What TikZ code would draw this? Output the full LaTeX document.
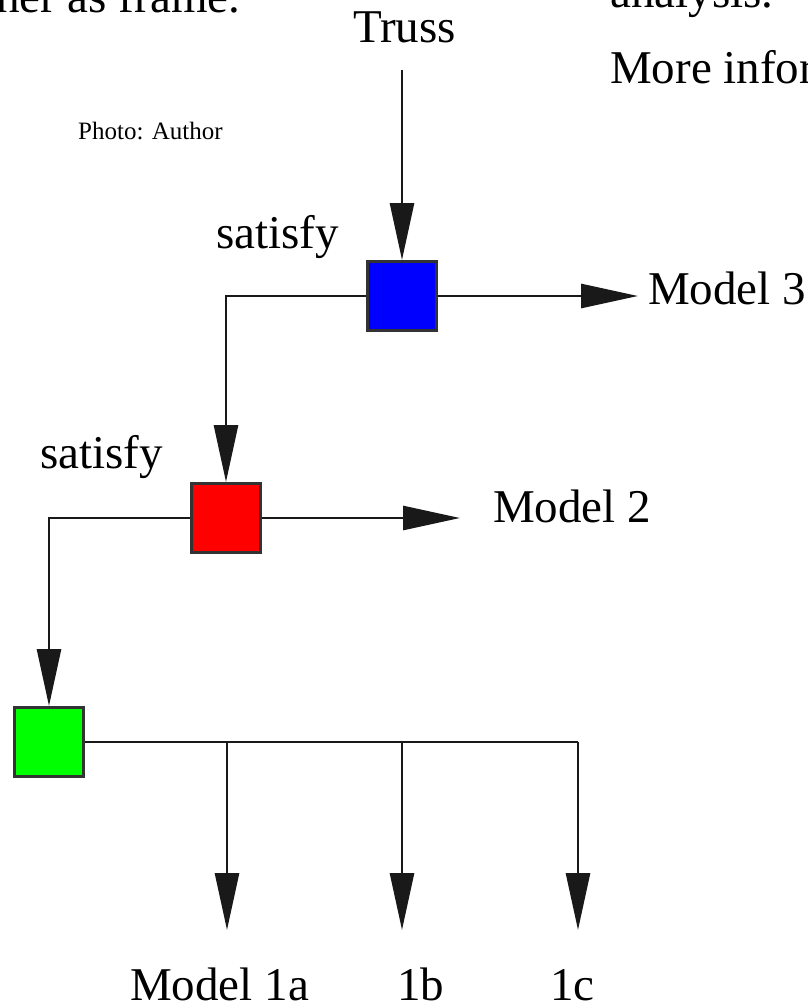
\documentclass[tikz,border=0pt]{standalone}
\usepackage{fontspec}
\setmainfont{Liberation Serif}
\usetikzlibrary{arrows.meta}
\begin{document}
\begin{tikzpicture}[x=1pt,y=-1pt,
  lbl/.style={inner sep=0pt, anchor=base west, font=\fontsize{47}{56}\selectfont},
  small/.style={inner sep=0pt, anchor=base west, font=\fontsize{25}{30}\selectfont},
  blk/.style={draw=black!80, line width=3pt, minimum size=69pt, inner sep=0pt},
  wire/.style={line width=2.8pt, draw=black!90},
  arr/.style={wire, -{Triangle[length=57pt,width=24pt]}}]
\useasboundingbox (0,0) rectangle (808,1004);

% surrounding page text
\node[lbl] (frame) at (-4,12) {her as frame.};
\node[lbl] (analysis) at (610,7) {analysis.};
\node[lbl] (more) at (610,83) {More infor};
\node[small] (photo) at (78,139) {Photo: Author};

% labels
\node[lbl] (truss) at (353,42) {Truss};
\node[lbl] (sat1) at (216,248) {satisfy};
\node[lbl] (sat2) at (40,468) {satisfy};
\node[lbl] (m3) at (648,304) {Model 3};
\node[lbl] (m2) at (493,522) {Model 2};
\node[lbl] (m1a) at (130,1000) {Model 1a};
\node[lbl] (m1b) at (397,1000) {1b};
\node[lbl] (m1c) at (550,1000) {1c};

% blocks
\node[blk, fill={rgb,255:red,0;green,0;blue,255}] (blue) at (402,296) {};
\node[blk, fill={rgb,255:red,255;green,0;blue,0}] (red) at (226,518) {};
\node[blk, fill={rgb,255:red,0;green,255;blue,0}] (green) at (49,742) {};

% connector ends and branch points
\coordinate (t0) at (402,70);
\coordinate (tip3) at (638,296);
\coordinate (tip2) at (460,518);
\coordinate (b1) at (227,742);
\coordinate (b2) at (402,742);
\coordinate (b3) at (578,742);
\coordinate (e1) at (227,930);
\coordinate (e2) at (402,930);
\coordinate (e3) at (578,930);

% connectors
\draw[arr] (t0) -- (blue.north);
\draw[arr] (blue.east) -- (tip3);
\draw[arr] (blue.west) -| (red.north);
\draw[arr] (red.east) -- (tip2);
\draw[arr] (red.west) -| (green.north);
\draw[wire] (green.east) -- (b3);
\draw[arr] (b1) -- (e1);
\draw[arr] (b2) -- (e2);
\draw[arr] (b3) -- (e3);
\end{tikzpicture}
\end{document}
